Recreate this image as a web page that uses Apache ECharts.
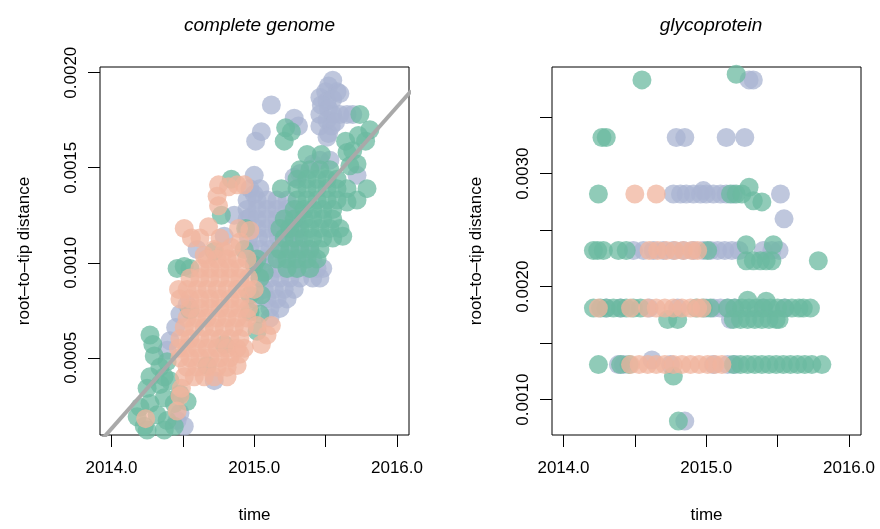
<!DOCTYPE html>
<html>
<head>
<meta charset="utf-8">
<script src="https://cdn.jsdelivr.net/npm/echarts@6.0.0/dist/echarts.min.js"></script>
<style>
  html, body { margin: 0; padding: 0; background: #fff; }
  #main { width: 880px; height: 529px; }
</style>
</head>
<body>
<div id="main"></div>
<script>
// root-to-tip regression, complete genome (left) and glycoprotein (right)
var timeTicks = [2014, 2014.5, 2015, 2015.5, 2016];
var timeLabels = [2014, 2015, 2016];
var genomeTicks = [0.0005, 0.0010, 0.0015, 0.0020];
var glycoTicks = [0.0010, 0.0015, 0.0020, 0.0025, 0.0030, 0.0035];
var glycoLabels = [0.0010, 0.0020, 0.0030];

// regression line through the complete genome points
var genomeFit = [[2013.85, 0.0], [2016.10, 0.001905]];

// complete genome: [time, root-to-tip distance]
var genomeLavender = [
  [2015.55,0.00196],[2015.52,0.00193],[2015.58,0.00190],[2015.50,0.00190],[2015.46,0.00187],
  [2015.51,0.00185],[2015.55,0.00186],[2015.60,0.00189],[2015.47,0.00183],[2015.52,0.00181],
  [2015.55,0.00178],[2015.46,0.00178],[2015.51,0.00175],[2015.54,0.00172],[2015.46,0.00172],
  [2015.52,0.00168],[2015.60,0.00178],[2015.65,0.00178],[2015.69,0.00178],[2015.57,0.00174],
  [2015.51,0.00166],
  [2015.12,0.00183],[2015.28,0.00176],[2015.31,0.00172],[2015.05,0.00169],[2015.01,0.00164],
  [2015.00,0.00146],[2015.46,0.00154],[2015.53,0.00154],[2015.72,0.00146],[2015.28,0.00145],
  [2015.32,0.00147],[2015.41,0.00152],[2014.86,0.00125],[2014.97,0.00124],[2015.00,0.00136],
  [2014.97,0.00139],[2015.04,0.00139],
  [2014.95,0.00133],[2015.02,0.00133],[2015.09,0.00133],[2015.16,0.00133],[2015.23,0.00133],
  [2014.95,0.00128],[2015.02,0.00128],[2015.09,0.00128],[2015.16,0.00128],[2015.23,0.00128],[2015.30,0.00128],
  [2014.95,0.00123],[2015.02,0.00123],[2015.09,0.00123],[2015.16,0.00123],[2015.23,0.00123],[2015.30,0.00123],
  [2014.95,0.00118],[2015.02,0.00118],[2015.09,0.00118],[2015.16,0.00118],[2015.23,0.00118],[2015.30,0.00118],
  [2014.96,0.00113],[2015.03,0.00113],[2015.10,0.00113],[2015.17,0.00113],[2015.24,0.00113],[2015.31,0.00113],
  [2014.97,0.00107],[2015.04,0.00107],[2015.11,0.00107],[2015.18,0.00107],[2015.25,0.00107],[2015.32,0.00107],[2015.39,0.00107],
  [2015.00,0.00102],[2015.07,0.00102],[2015.14,0.00102],[2015.21,0.00102],[2015.28,0.00102],[2015.35,0.00102],[2015.41,0.00102],
  [2015.02,0.00097],[2015.09,0.00097],[2015.16,0.00097],[2015.23,0.00097],[2015.30,0.00097],[2015.37,0.00097],[2015.44,0.00097],[2015.48,0.00097],
  [2015.04,0.00092],[2015.11,0.00092],[2015.18,0.00092],[2015.25,0.00092],[2015.32,0.00092],[2015.41,0.00092],[2015.46,0.00092],
  [2015.07,0.00086],[2015.14,0.00086],[2015.21,0.00086],[2015.28,0.00086],
  [2015.09,0.00081],[2015.16,0.00081],[2015.23,0.00081],[2015.00,0.00081],
  [2015.11,0.00076],[2015.18,0.00076],[2015.11,0.00071],
  [2014.48,0.00073],[2014.45,0.00066],[2014.41,0.00059],[2014.39,0.00054],[2014.53,0.00078],
  [2014.60,0.00107],[2014.79,0.00114],[2014.46,0.00017],[2014.51,0.00014],[2014.48,0.00021],[2014.72,0.00038]
];
var genomeGreen = [
  [2014.25,0.00034],[2014.27,0.00026],[2014.20,0.00024],[2014.23,0.00014],[2014.39,0.00017],
  [2014.44,0.00026],[2014.53,0.00027],[2014.32,0.00020],[2014.37,0.00029],[2014.41,0.00038],
  [2014.34,0.00036],[2014.25,0.00012],[2014.18,0.00019],[2014.27,0.00062],[2014.29,0.00057],
  [2014.30,0.00051],[2014.34,0.00045],[2014.39,0.00048],[2014.44,0.00014],[2014.37,0.00012],
  [2014.48,0.00031],[2014.27,0.00040],[2014.37,0.00040],
  [2014.46,0.00097],[2014.55,0.00097],[2014.51,0.00098],
  [2014.84,0.00144],[2014.77,0.00125],[2014.94,0.00118],[2014.93,0.00107],[2014.72,0.00106],
  [2014.55,0.00075],[2014.67,0.00046],[2014.79,0.00057],[2015.00,0.00099],[2015.04,0.00092],
  [2015.05,0.00083],[2015.04,0.00073],[2015.02,0.00064],[2014.97,0.00083],[2015.07,0.00095],
  [2015.02,0.00102],[2014.97,0.00074],
  [2015.32,0.00149],[2015.39,0.00149],[2015.46,0.00149],[2015.53,0.00149],
  [2015.30,0.00144],[2015.37,0.00144],[2015.44,0.00144],[2015.51,0.00144],[2015.58,0.00144],
  [2015.19,0.00139],[2015.30,0.00139],[2015.37,0.00139],[2015.44,0.00139],[2015.51,0.00139],[2015.58,0.00139],[2015.65,0.00139],
  [2015.30,0.00133],[2015.37,0.00133],[2015.44,0.00133],[2015.51,0.00133],[2015.58,0.00133],
  [2015.28,0.00128],[2015.35,0.00128],[2015.41,0.00128],[2015.48,0.00128],[2015.55,0.00128],
  [2015.21,0.00123],[2015.28,0.00123],[2015.35,0.00123],[2015.41,0.00123],[2015.48,0.00123],[2015.55,0.00123],
  [2015.18,0.00118],[2015.25,0.00118],[2015.32,0.00118],[2015.39,0.00118],[2015.46,0.00118],[2015.53,0.00118],[2015.60,0.00118],
  [2015.21,0.00113],[2015.28,0.00113],[2015.35,0.00113],[2015.41,0.00113],[2015.48,0.00113],[2015.55,0.00113],
  [2015.18,0.00107],[2015.25,0.00107],[2015.32,0.00107],[2015.39,0.00107],[2015.46,0.00107],
  [2015.16,0.00102],[2015.23,0.00102],[2015.30,0.00102],[2015.37,0.00102],[2015.44,0.00102],
  [2015.23,0.00097],[2015.30,0.00097],[2015.39,0.00097],
  [2015.74,0.00178],[2015.81,0.00170],[2015.78,0.00164],[2015.73,0.00167],[2015.64,0.00164],
  [2015.65,0.00158],[2015.67,0.00151],[2015.72,0.00152],[2015.79,0.00139],[2015.72,0.00133],
  [2015.62,0.00114],[2015.65,0.00132],[2015.22,0.00171],[2015.26,0.00169],[2015.21,0.00164],
  [2015.37,0.00157],[2015.47,0.00157],[2015.69,0.00159]
];
var genomeSalmon = [
  [2014.75,0.00141],[2014.88,0.00141],[2014.93,0.00141],[2014.82,0.00140],[2014.74,0.00135],
  [2014.75,0.00130],[2014.51,0.00118],[2014.68,0.00119],[2014.62,0.00113],[2014.56,0.00113],
  [2014.76,0.00113],[2014.90,0.00111],[2014.97,0.00117],[2014.89,0.00118],[2014.84,0.00108],
  [2014.65,0.00104],[2014.72,0.00107],[2014.79,0.00106],
  [2014.67,0.00102],[2014.74,0.00102],[2014.81,0.00102],[2014.88,0.00102],[2014.95,0.00102],
  [2014.62,0.00097],[2014.69,0.00097],[2014.76,0.00097],[2014.83,0.00097],[2014.90,0.00097],
  [2014.55,0.00092],[2014.62,0.00092],[2014.69,0.00092],[2014.76,0.00092],[2014.83,0.00092],[2014.90,0.00092],[2014.96,0.00092],
  [2014.47,0.00086],[2014.53,0.00086],[2014.60,0.00086],[2014.67,0.00086],[2014.74,0.00086],[2014.81,0.00086],[2014.88,0.00086],[2014.95,0.00086],
  [2014.48,0.00081],[2014.55,0.00081],[2014.62,0.00081],[2014.69,0.00081],[2014.76,0.00081],[2014.83,0.00081],[2014.90,0.00081],
  [2014.55,0.00076],[2014.62,0.00076],[2014.69,0.00076],[2014.76,0.00076],[2014.83,0.00076],[2014.90,0.00076],[2014.96,0.00076],
  [2014.53,0.00071],[2014.60,0.00071],[2014.67,0.00071],[2014.74,0.00071],[2014.81,0.00071],[2014.88,0.00071],[2014.95,0.00071],
  [2014.51,0.00066],[2014.58,0.00066],[2014.65,0.00066],[2014.72,0.00066],[2014.79,0.00066],[2014.86,0.00066],[2014.93,0.00066],
  [2014.48,0.00060],[2014.55,0.00060],[2014.62,0.00060],[2014.69,0.00060],[2014.76,0.00060],[2014.83,0.00060],[2014.90,0.00060],
  [2014.47,0.00055],[2014.53,0.00055],[2014.60,0.00055],[2014.67,0.00055],[2014.74,0.00055],[2014.81,0.00055],[2014.88,0.00055],
  [2014.48,0.00050],[2014.55,0.00050],[2014.62,0.00050],[2014.69,0.00050],[2014.76,0.00050],[2014.83,0.00050],
  [2014.53,0.00045],[2014.60,0.00045],[2014.67,0.00045],[2014.74,0.00045],[2014.81,0.00045],
  [2014.51,0.00040],[2014.58,0.00040],[2014.65,0.00040],[2014.72,0.00040],[2014.81,0.00040],[2014.88,0.00046],
  [2014.49,0.00034],[2014.48,0.00030],
  [2014.46,0.00022],[2014.24,0.00018],[2015.09,0.00062],[2015.05,0.00057],[2015.12,0.00067],
  [2015.02,0.00067],[2015.00,0.00086],[2014.90,0.00052],[2014.93,0.00055]
];

// glycoprotein: [time, root-to-tip distance]
var glycoLavender = [
  [2015.30,0.00383],[2015.33,0.00383],
  [2014.79,0.00332],[2014.85,0.00332],[2015.14,0.00332],[2015.27,0.00332],
  [2014.77,0.00282],[2014.82,0.00282],[2014.86,0.00282],[2014.91,0.00282],[2014.96,0.00282],
  [2015.00,0.00282],[2015.05,0.00282],[2015.10,0.00282],[2015.14,0.00282],[2015.19,0.00282],
  [2015.52,0.00282],[2014.98,0.00285],[2015.545,0.00260],
  [2014.49,0.00232],[2014.56,0.00232],[2014.63,0.00232],[2014.70,0.00232],[2014.77,0.00232],
  [2014.84,0.00232],[2014.91,0.00232],[2014.98,0.00232],[2015.03,0.00232],[2015.08,0.00232],
  [2015.13,0.00232],[2015.18,0.00232],[2015.23,0.00232],[2015.40,0.00232],[2015.46,0.00232],[2015.51,0.00232],
  [2014.30,0.00181],[2014.40,0.00181],[2014.60,0.00181],[2014.80,0.00181],[2015.00,0.00181],
  [2015.05,0.00181],[2015.10,0.00181],[2015.15,0.00181],[2015.20,0.00181],[2015.40,0.00181],[2015.55,0.00181],
  [2015.17,0.00171],
  [2014.385,0.00131],[2014.42,0.00131],[2014.75,0.00131],[2015.05,0.00131],[2015.15,0.00131],
  [2015.20,0.00131],[2014.62,0.00135],
  [2014.85,0.00081]
];
var glycoGreen = [
  [2015.21,0.00388],[2014.55,0.00383],
  [2014.27,0.00332],[2014.30,0.00332],
  [2014.245,0.00282],[2015.17,0.00282],[2015.21,0.00282],[2015.25,0.00282],[2015.30,0.00288],
  [2015.33,0.00276],[2015.39,0.00275],
  [2014.21,0.00232],[2014.24,0.00232],[2014.28,0.00232],[2014.385,0.00232],[2014.44,0.00232],[2015.01,0.00232],
  [2015.28,0.00237],[2015.47,0.00237],
  [2015.28,0.00223],[2015.33,0.00223],[2015.38,0.00223],[2015.42,0.00223],[2015.46,0.00223],[2015.785,0.00223],
  [2014.21,0.00181],[2014.26,0.00181],[2014.30,0.00181],[2014.35,0.00181],[2014.40,0.00181],
  [2014.44,0.00181],[2014.49,0.00181],[2014.54,0.00181],[2014.93,0.00181],[2014.98,0.00181],
  [2015.03,0.00181],[2015.15,0.00181],[2015.20,0.00181],[2015.25,0.00181],[2015.30,0.00181],
  [2015.35,0.00181],[2015.40,0.00181],[2015.45,0.00181],[2015.50,0.00181],[2015.55,0.00181],
  [2015.60,0.00181],[2015.65,0.00181],[2015.68,0.00181],[2015.73,0.00181],
  [2015.29,0.00188],[2015.42,0.00187],
  [2014.73,0.00171],[2014.80,0.00171],
  [2015.19,0.00171],[2015.24,0.00171],[2015.29,0.00171],[2015.34,0.00171],[2015.39,0.00171],
  [2015.44,0.00171],[2015.49,0.00171],[2015.51,0.00171],
  [2014.245,0.00131],[2014.40,0.00131],[2014.46,0.00131],
  [2015.19,0.00131],[2015.24,0.00131],[2015.29,0.00131],[2015.34,0.00131],[2015.39,0.00131],
  [2015.44,0.00131],[2015.49,0.00131],[2015.54,0.00131],[2015.59,0.00131],[2015.64,0.00131],
  [2015.69,0.00131],[2015.74,0.00131],[2015.81,0.00131],
  [2014.77,0.00121],
  [2014.805,0.00081]
];
var glycoSalmon = [
  [2014.50,0.00282],[2014.65,0.00282],
  [2014.60,0.00232],[2014.66,0.00232],[2014.72,0.00232],[2014.78,0.00232],[2014.84,0.00232],
  [2014.90,0.00232],[2014.94,0.00232],
  [2014.245,0.00181],[2014.47,0.00181],[2014.59,0.00181],[2014.65,0.00181],[2014.71,0.00181],
  [2014.77,0.00181],[2014.83,0.00181],[2014.89,0.00181],[2014.94,0.00181],[2014.97,0.00181],
  [2014.47,0.00131],[2014.53,0.00131],[2014.59,0.00131],[2014.65,0.00131],[2014.71,0.00131],
  [2014.77,0.00131],[2014.83,0.00131],[2014.89,0.00131],[2014.95,0.00131],[2015.01,0.00131],
  [2015.06,0.00131],[2015.11,0.00131]
];

var lavender = 'rgba(170,180,210,0.75)';
var green = 'rgba(107,185,160,0.75)';
var salmon = 'rgba(240,180,158,0.75)';
var font = '"Liberation Sans", Arial, Helvetica, sans-serif';

var myChart = echarts.init(document.getElementById('main'));

function xAxisFor(idx) {
    return {
        type: 'value',
        gridIndex: idx,
        min: 2013.92,
        max: 2016.084,
        name: 'time',
        nameLocation: 'middle',
        nameGap: 72,
        nameTextStyle: { color: '#000', fontSize: 17, fontFamily: font },
        axisLine: { show: false },
        splitLine: { show: false },
        axisTick: {
            show: true, length: 12, customValues: timeTicks,
            lineStyle: { color: '#000', width: 1 }
        },
        axisLabel: {
            customValues: timeLabels, margin: 25,
            color: '#000', fontSize: 17, fontFamily: font,
            formatter: function (v) { return v.toFixed(1); }
        }
    };
}

function yAxisFor(idx, min, max, ticks, labels) {
    return {
        type: 'value',
        gridIndex: idx,
        min: min,
        max: max,
        name: 'root\u2013to\u2013tip distance',
        nameLocation: 'middle',
        nameGap: 67,
        nameTextStyle: { color: '#000', fontSize: 17, fontFamily: font },
        axisLine: { show: false },
        splitLine: { show: false },
        axisTick: {
            show: true, length: 12, customValues: ticks,
            lineStyle: { color: '#000', width: 1 }
        },
        axisLabel: {
            customValues: labels, rotate: 90, margin: 20,
            color: '#000', fontSize: 17, fontFamily: font,
            formatter: function (v) { return v.toFixed(4); }
        }
    };
}

function points(data, color, idx) {
    return {
        type: 'scatter',
        xAxisIndex: idx,
        yAxisIndex: idx,
        data: data,
        symbolSize: 19,
        itemStyle: { color: color, opacity: 1 },
        emphasis: { disabled: true },
        silent: true
    };
}

option = {
    backgroundColor: '#fff',
    animation: false,
    title: [
        {
            text: 'complete genome', left: 254.5, top: 11, textAlign: 'center',
            textStyle: { fontStyle: 'italic', fontWeight: 'normal', fontSize: 19, color: '#000', fontFamily: font }
        },
        {
            text: 'glycoprotein', left: 706, top: 11, textAlign: 'center',
            textStyle: { fontStyle: 'italic', fontWeight: 'normal', fontSize: 19, color: '#000', fontFamily: font }
        }
    ],
    grid: [
        { left: 100, top: 67, width: 309, height: 371, show: true, borderColor: '#000', borderWidth: 1, backgroundColor: 'transparent' },
        { left: 552, top: 67, width: 309, height: 371, show: true, borderColor: '#000', borderWidth: 1, backgroundColor: 'transparent' }
    ],
    xAxis: [xAxisFor(0), xAxisFor(1)],
    yAxis: [
        yAxisFor(0, 0.000094, 0.00203, genomeTicks, genomeTicks),
        yAxisFor(1, 0.000687, 0.003944, glycoTicks, glycoLabels)
    ],
    series: [
        points(genomeLavender, lavender, 0),
        points(genomeGreen, green, 0),
        points(genomeSalmon, salmon, 0),
        {
            type: 'line',
            xAxisIndex: 0,
            yAxisIndex: 0,
            data: genomeFit,
            symbol: 'none',
            clip: true,
            z: 5,
            silent: true,
            lineStyle: { color: '#a9a9a9', width: 4 }
        },
        points(glycoLavender, lavender, 1),
        points(glycoGreen, green, 1),
        points(glycoSalmon, salmon, 1)
    ]
};

myChart.setOption(option);
</script>
</body>
</html>
